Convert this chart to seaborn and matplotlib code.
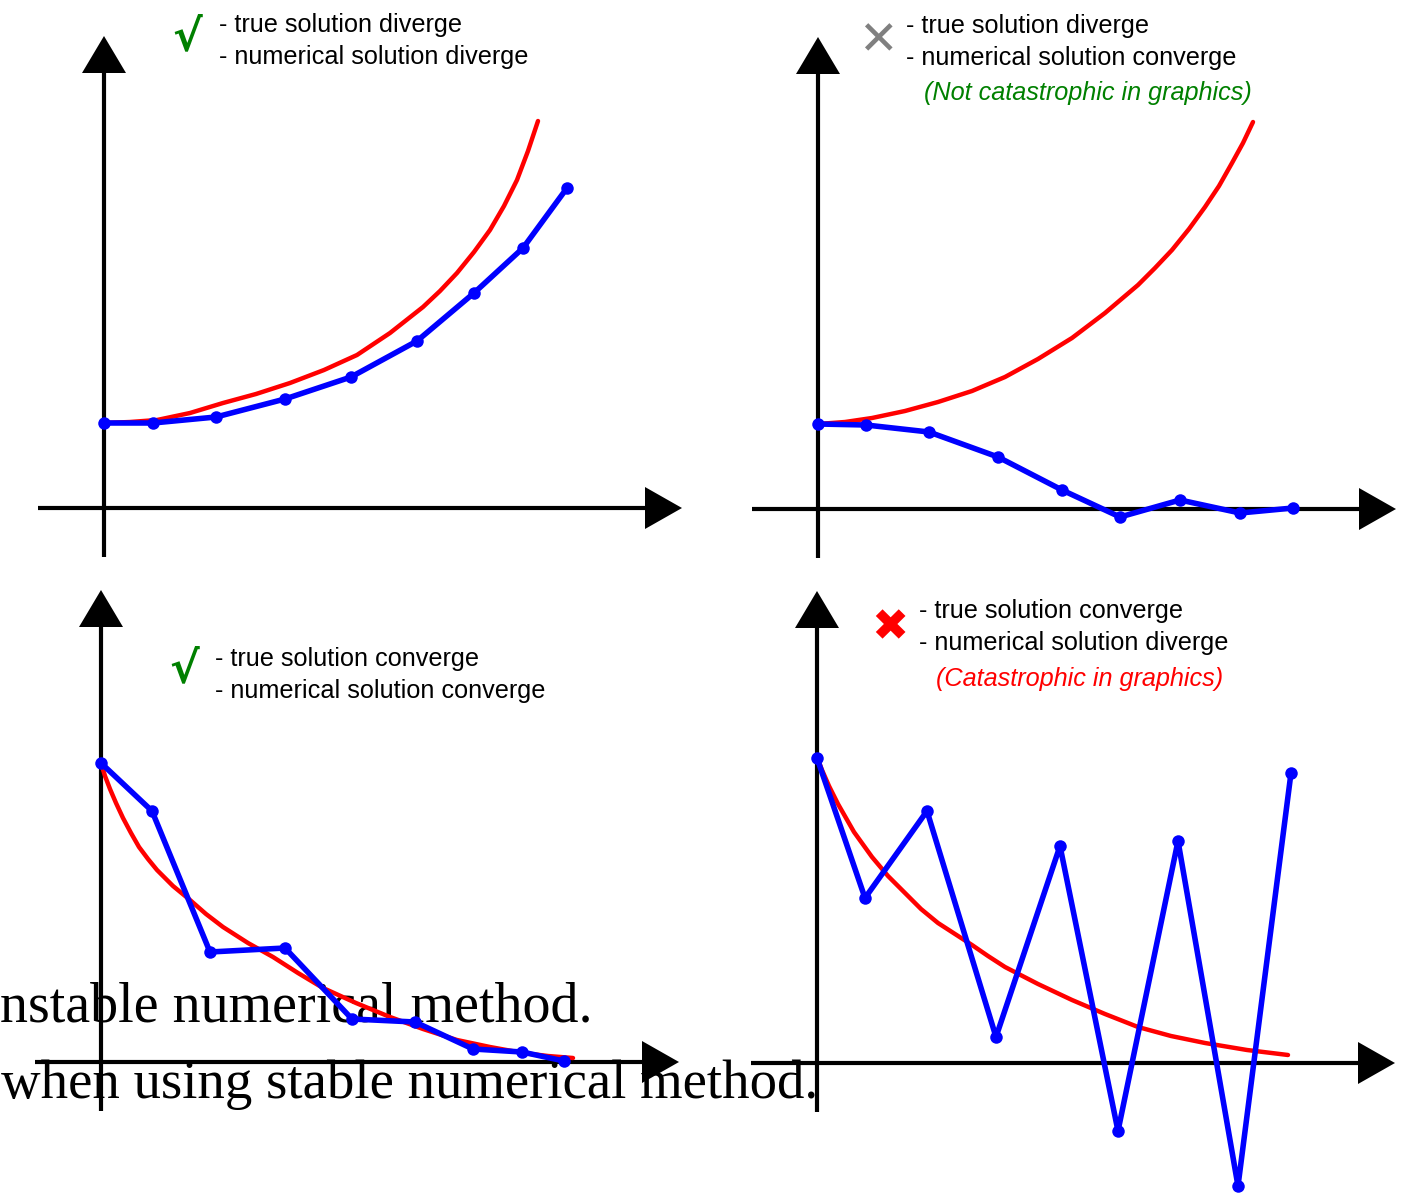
import matplotlib
matplotlib.use('Agg')
import matplotlib.pyplot as plt
import matplotlib.patches as mpatches
import seaborn as sns

sns.set_theme(style='white')
plt.rcParams['font.family'] = ['Liberation Sans', 'DejaVu Sans']
plt.rcParams['text.color'] = 'black'

# values; origin is where the two arrows cross
# top left: true diverges, numerical diverges
true_div_a_x = [0, 26, 53, 86, 119, 152, 186, 220, 253, 286, 319, 336, 353, 370, 386, 400, 413, 424, 434]
true_div_a_y = [85, 86, 88, 95, 105, 114, 125, 138, 153, 175, 201, 217, 235, 256, 278, 302, 328, 357, 387]
num_div_a_x = [0, 49, 112, 181, 247, 313, 370, 419, 463]
num_div_a_y = [85, 85, 91, 109, 131, 167, 215, 260, 320]
# top right: true diverges, numerical converges
true_div_b_x = [0, 27, 54, 87, 120, 154, 187, 220, 254, 287, 320, 337, 354, 371, 387, 401, 414, 425, 435]
true_div_b_y = [85, 87, 91, 98, 107, 118, 132, 150, 171, 196, 224, 241, 259, 280, 302, 323, 346, 366, 387]
num_conv_b_x = [0, 48, 111, 180, 244, 302, 362, 422, 475]
num_conv_b_y = [85, 84, 77, 52, 19, -8, 9, -4, 1]
# bottom left: true converges, numerical converges
true_conv_c_x = [0, 4, 9, 15, 22, 30, 38, 47, 56, 72, 89, 105, 122, 147, 172, 197, 222, 255, 289, 322, 356, 389, 422, 447, 472]
true_conv_c_y = [299, 286, 273, 259, 244, 229, 215, 203, 192, 176, 162, 148, 135, 119, 105, 89, 74, 59, 45, 33, 22, 15, 9, 6, 4]
num_conv_c_x = [0, 51, 109, 184, 251, 314, 372, 421, 463]
num_conv_c_y = [299, 251, 110, 114, 43, 40, 13, 10, 1]
# bottom right: true converges, numerical diverges
true_conv_d_x = [0, 5, 12, 21, 37, 55, 71, 88, 104, 121, 138, 155, 171, 188, 221, 255, 288, 321, 354, 388, 430, 471]
true_conv_d_y = [306, 293, 277, 259, 231, 206, 187, 170, 154, 140, 129, 118, 107, 96, 79, 63, 49, 36, 27, 20, 13, 8]
num_div_d_x = [0, 48, 110, 179, 243, 301, 361, 421, 474]
num_div_d_y = [305, 165, 252, 26, 217, -68, 222, -123, 290]

W, H = 1408, 1193
fig = plt.figure(figsize=(W / 100, H / 100), dpi=100)

# background layer for the loose text (pixel coordinates)
bg = fig.add_axes([0, 0, 1, 1])
bg.set_xlim(0, W)
bg.set_ylim(H, 0)
bg.axis('off')

serif = ['Liberation Serif', 'DejaVu Serif']
bg.text(0, 1021, 'nstable numerical method.', family=serif, fontsize=40.3,
        va='baseline', ha='left', zorder=0)
bg.text(1, 1098, 'when using stable numerical method.', family=serif, fontsize=39.4,
        va='baseline', ha='left', zorder=0)


def panel(box, origin, curves):
    x0, y0, x1, y1 = box
    ox, oy = origin
    ax = fig.add_axes([x0 / W, 1 - y1 / H, (x1 - x0) / W, (y1 - y0) / H])
    ax.set_xlim(x0 - ox, x1 - ox)
    ax.set_ylim(oy - y1, oy - y0)
    ax.patch.set_visible(False)
    ax.axis('off')
    # hand drawn axes with arrow heads
    ax.plot([-66, 545], [0, 0], color='black', lw=3, solid_capstyle='butt')
    ax.plot([0, 0], [-49, 440], color='black', lw=3, solid_capstyle='butt')
    ax.add_patch(mpatches.Polygon([[541, 21], [541, -21], [578, 0]], color='black', lw=0))
    ax.add_patch(mpatches.Polygon([[-22, 435], [22, 435], [0, 472]], color='black', lw=0))
    (tx, ty), (nx, ny) = curves
    sns.lineplot(x=tx, y=ty, ax=ax, color='red', lw=3.2, estimator=None, sort=False)
    sns.lineplot(x=nx, y=ny, ax=ax, color='blue', lw=4, marker='o', markersize=9,
                 markeredgewidth=0, estimator=None, sort=False)
    return ax


panel((0, 0, 704, 580), (104, 508), [(true_div_a_x, true_div_a_y), (num_div_a_x, num_div_a_y)])
panel((704, 0, 1408, 580), (818, 509), [(true_div_b_x, true_div_b_y), (num_conv_b_x, num_conv_b_y)])
panel((0, 580, 704, 1193), (101, 1062), [(true_conv_c_x, true_conv_c_y), (num_conv_c_x, num_conv_c_y)])
panel((704, 580, 1408, 1193), (817, 1063), [(true_conv_d_x, true_conv_d_y), (num_div_d_x, num_div_d_y)])

# captions
fs = 18.2
green = '#008000'
sym = ['DejaVu Sans']
bg.text(187, 38, '√', color=green, fontsize=32, fontweight='bold', ha='center', va='center', family=sym)
bg.text(219, 25, '- true solution diverge', fontsize=fs, va='center')
bg.text(219, 57, '- numerical solution diverge', fontsize=fs, va='center')

bg.text(878, 42, '✕', color='#808080', fontsize=34, ha='center', va='center', family=sym)
bg.text(906, 26, '- true solution diverge', fontsize=fs, va='center')
bg.text(906, 58, '- numerical solution converge', fontsize=fs, va='center')
bg.text(924, 93, '(Not catastrophic in graphics)', fontsize=fs, va='center', color=green, style='italic')

bg.text(184, 670, '√', color=green, fontsize=32, fontweight='bold', ha='center', va='center', family=sym)
bg.text(215, 659, '- true solution converge', fontsize=fs, va='center')
bg.text(215, 691, '- numerical solution converge', fontsize=fs, va='center')

bg.text(890, 628, '✖', color='red', fontsize=32, ha='center', va='center', family=sym)
bg.text(919, 611, '- true solution converge', fontsize=fs, va='center')
bg.text(919, 643, '- numerical solution diverge', fontsize=fs, va='center')
bg.text(936, 679, '(Catastrophic in graphics)', fontsize=fs, va='center', color='red', style='italic')

fig.savefig('out.png', dpi=100, facecolor='white')
